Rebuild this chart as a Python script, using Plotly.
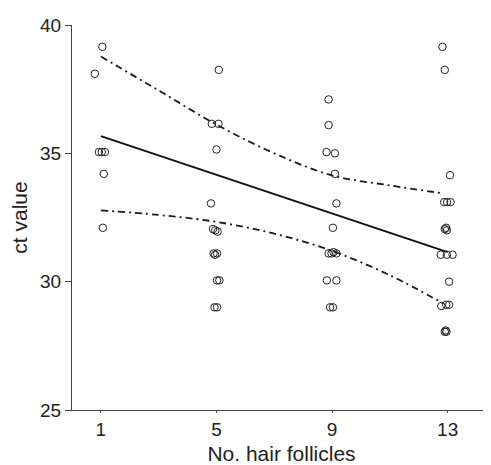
import plotly.graph_objects as go

# Scatter data: x = no. hair follicles (with slight horizontal jitter as drawn), y = ct value
pt_x = [1.05, 0.79, 0.93, 1.03, 1.14, 1.1, 1.07,
        5.08, 4.84, 5.07, 5.0, 4.81, 4.88, 4.96, 5.04, 4.9, 4.95, 5.02, 5.02, 5.1, 4.93, 5.02,
        8.88, 8.88, 8.81, 9.1, 9.1, 9.15, 9.03, 8.88, 8.98, 9.05, 9.15, 8.82, 9.15, 8.93, 9.03,
        12.82, 12.9, 13.08, 12.88, 12.98, 13.1, 12.9, 12.95, 12.97, 12.76, 12.97, 13.17,
        13.05, 12.78, 12.95, 13.05, 12.9, 12.93, 12.96]
pt_y = [39.15, 38.1, 35.05, 35.05, 35.05, 34.2, 32.1,
        38.25, 36.15, 36.15, 35.15, 33.05, 32.05, 32.0, 31.95, 31.1, 31.05, 31.1, 30.05, 30.05, 29.0, 29.0,
        37.1, 36.1, 35.05, 35.0, 34.2, 33.05, 32.1, 31.1, 31.1, 31.15, 31.1, 30.05, 30.05, 29.0, 29.0,
        39.15, 38.25, 34.15, 33.1, 33.1, 33.1, 32.05, 32.1, 32.0, 31.05, 31.05, 31.05,
        30.0, 29.05, 29.1, 29.1, 28.05, 28.1, 28.05]

# Fitted regression line (end points)
fit_x = [1, 13]
fit_y = [35.67, 31.15]

# Upper and lower dash-dot bands
band_x = [1, 3, 5, 7, 9, 11, 12.85]
upper_y = [38.77, 37.45, 36.12, 35.0, 34.14, 33.75, 33.44]
lower_y = [32.78, 32.6, 32.33, 31.87, 31.2, 30.25, 29.15]

x_ticks = [1, 5, 9, 13]
y_ticks = [25, 30, 35, 40]

FONT = "Arial, Liberation Sans, sans-serif"
DASHDOT = "7px,4px,2px,4px"

fig = go.Figure()
fig.add_trace(go.Scatter(x=band_x, y=upper_y, mode="lines", line=dict(color="#1a1a1a", width=1.8, dash=DASHDOT, shape="spline"), hoverinfo="skip"))
fig.add_trace(go.Scatter(x=band_x, y=lower_y, mode="lines", line=dict(color="#1a1a1a", width=1.8, dash=DASHDOT, shape="spline"), hoverinfo="skip"))
fig.add_trace(go.Scatter(x=fit_x, y=fit_y, mode="lines", line=dict(color="#111", width=2)))
fig.add_trace(go.Scatter(x=pt_x, y=pt_y, mode="markers",
                         marker=dict(symbol="circle-open", size=7.5, color="#222", line=dict(width=1, color="#222"))))

# page body has an 8px default margin, so the figure is shrunk and margins offset accordingly
fig.update_layout(
    width=483, height=457,
    margin=dict(l=64, r=0, t=17, b=55),
    paper_bgcolor="white", plot_bgcolor="white",
    showlegend=False,
    font=dict(family=FONT, size=19, color="#222"),
)
fig.update_xaxes(range=[0, 14.5], tickvals=x_ticks, ticktext=[str(v) for v in x_ticks],
                 showgrid=False, zeroline=False, showline=True, linecolor="#444", linewidth=1,
                 ticks="outside", ticklen=2, tickcolor="#444",
                 title=dict(text="No. hair follicles", font=dict(size=21), standoff=7),
                 tickfont=dict(size=19))
fig.update_yaxes(range=[25, 40], tickvals=y_ticks, ticktext=[str(v) for v in y_ticks],
                 showgrid=False, zeroline=False, showline=True, linecolor="#444", linewidth=1,
                 ticks="outside", ticklen=6, tickcolor="#444",
                 title=dict(text="ct value", font=dict(size=21), standoff=6),
                 tickfont=dict(size=19))

fig.write_html("out.html")
